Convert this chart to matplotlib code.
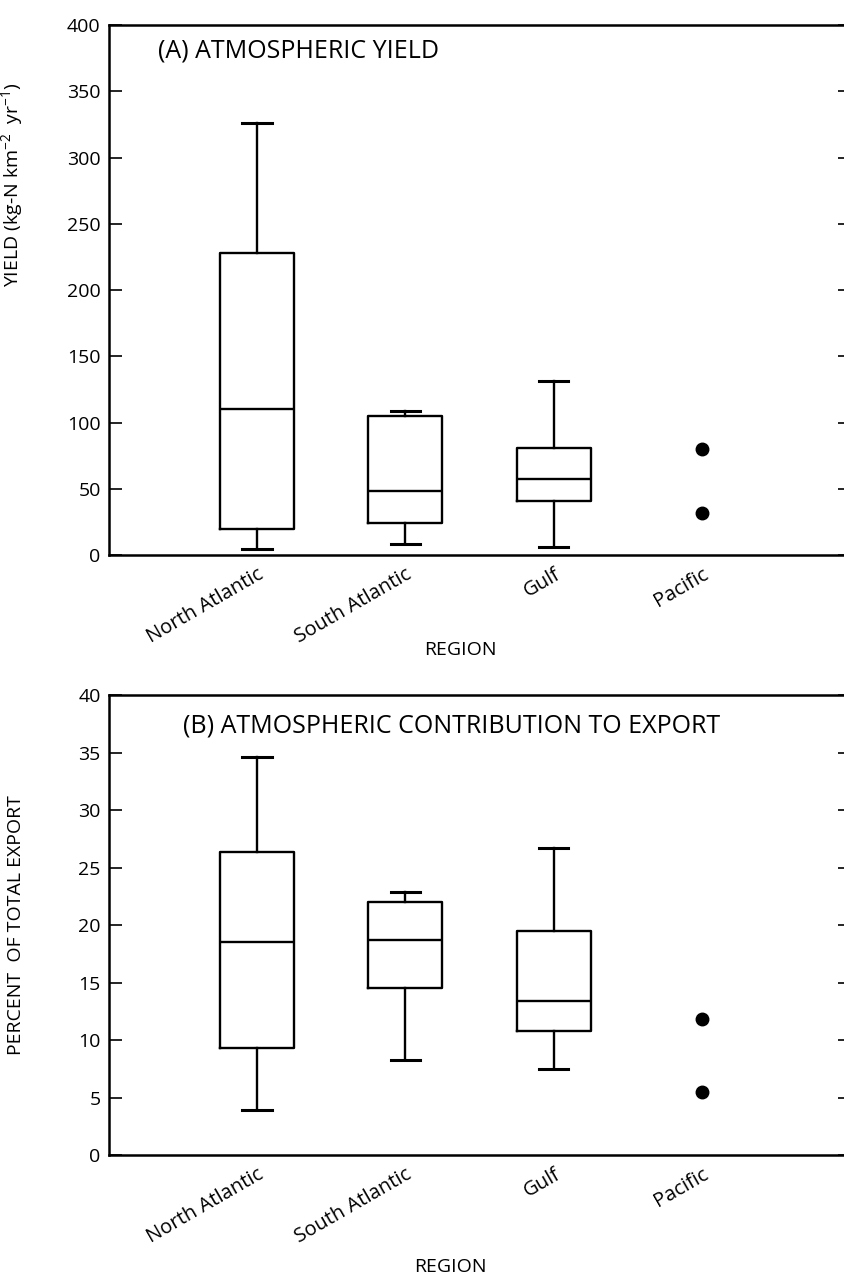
import numpy as np
import matplotlib
matplotlib.use('Agg')
import matplotlib.pyplot as plt

plt.rcParams['font.family'] = ['Open Sans', 'DejaVu Sans']
plt.rcParams['mathtext.fontset'] = 'custom'
plt.rcParams['mathtext.rm'] = 'Open Sans'
plt.rcParams['mathtext.default'] = 'regular'

# data
regions = ['North Atlantic', 'South Atlantic', 'Gulf', 'Pacific']

# (A) atmospheric yield, kg-N km-2 yr-1  (box plots for first three regions)
yield_low = [4.5, 8.0, 6.0]
yield_q1 = [20.0, 24.0, 41.0]
yield_med = [110.0, 48.0, 57.0]
yield_q3 = [228.0, 105.0, 81.0]
yield_high = [326.0, 109.0, 131.0]
yield_pacific = [80.0, 32.0]

# (B) atmospheric contribution to export, percent
pct_low = [3.9, 8.3, 7.5]
pct_q1 = [9.3, 14.5, 10.8]
pct_med = [18.5, 18.7, 13.4]
pct_q3 = [26.4, 22.0, 19.5]
pct_high = [34.6, 22.9, 26.7]
pct_pacific = [11.8, 5.5]


def make_stats(low, q1, med, q3, high):
    stats = []
    for i in range(len(low)):
        stats.append({'whislo': low[i], 'q1': q1[i], 'med': med[i],
                      'q3': q3[i], 'whishi': high[i], 'fliers': []})
    return stats


def draw_panel(ax, stats, pacific, ymax, ystep, title, title_xy, ylabel):
    lw = 1.7
    ax.bxp(stats, positions=[1, 2, 3], widths=0.5, capwidths=0.2,
           showfliers=False,
           boxprops=dict(color='black', linewidth=lw),
           medianprops=dict(color='black', linewidth=lw),
           whiskerprops=dict(color='black', linewidth=lw),
           capprops=dict(color='black', linewidth=2.2))
    ax.plot([4] * len(pacific), pacific, 'o', color='black', markersize=9)

    ax.set_xlim(0, 5)
    ax.set_ylim(0, ymax)
    ax.set_yticks(np.arange(0, ymax + 1, ystep))
    ax.set_xticks([1, 2, 3, 4])
    ax.set_xticklabels(regions, rotation=30, ha='right', rotation_mode='anchor',
                       fontsize=14.5)
    ax.tick_params(axis='x', length=0, pad=7)
    ax.tick_params(axis='y', direction='in', length=9, width=1.2,
                   labelsize=14, right=True, pad=6)
    for s in ax.spines.values():
        s.set_linewidth(1.8)

    ax.text(title_xy[0], title_xy[1], title, transform=ax.transAxes,
            fontsize=18, va='baseline')
    ax.set_ylabel(ylabel, fontsize=14)


fig = plt.figure(figsize=(8.45, 12.8), dpi=100)

ax1 = fig.add_axes([0.129, 0.5664, 0.877, 0.414])
draw_panel(ax1, make_stats(yield_low, yield_q1, yield_med, yield_q3, yield_high),
           yield_pacific, 400, 50, '(A) ATMOSPHERIC YIELD', (0.066, 0.938),
           r'YIELD (kg-N km$^{-2}$  yr$^{-1}$)')
ax1.yaxis.set_label_coords(-0.113, 0.70)
ax1.set_xlabel('REGION', fontsize=14)
ax1.xaxis.set_label_coords(0.474, -0.162)

ax2 = fig.add_axes([0.129, 0.0977, 0.877, 0.359])
draw_panel(ax2, make_stats(pct_low, pct_q1, pct_med, pct_q3, pct_high),
           pct_pacific, 40, 5, '(B) ATMOSPHERIC CONTRIBUTION TO EXPORT',
           (0.1, 0.92), 'PERCENT  OF TOTAL EXPORT')
ax2.yaxis.set_label_coords(-0.113, 0.5)
ax2.set_xlabel('REGION', fontsize=14)
ax2.xaxis.set_label_coords(0.46, -0.224)

fig.savefig('out.png', dpi=100)
